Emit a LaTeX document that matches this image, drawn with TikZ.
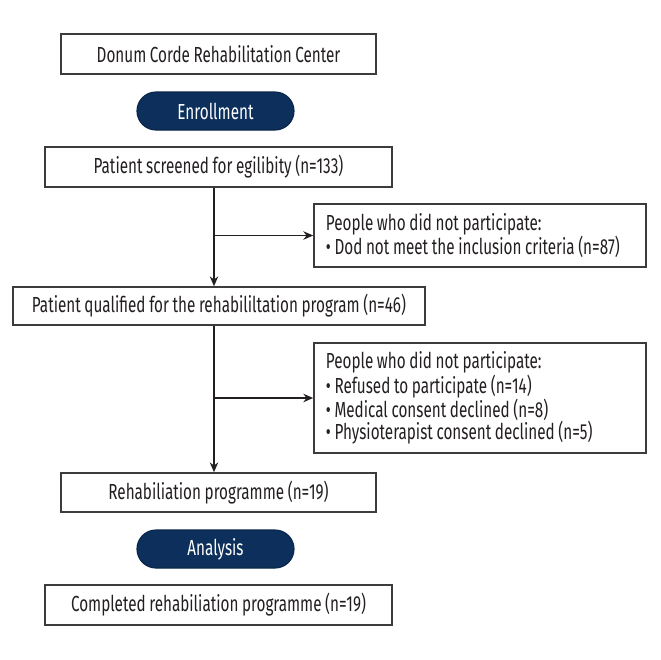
\documentclass[tikz,border=0pt]{standalone}
\usepackage{fontspec}
\setmainfont{Fira Sans}[FakeStretch=0.70,WordSpace=0.9]
\usetikzlibrary{arrows.meta,shapes.misc}
\definecolor{navy}{HTML}{0C2F5B}
\definecolor{edge}{HTML}{3C3C3C}
\definecolor{ink}{HTML}{231F20}
\begin{document}
\begin{tikzpicture}[x=0.025cm,y=-0.025cm,>={Stealth[length=7pt,width=6pt]},
  font=\fontsize{15.5}{15.6}\selectfont,
  box/.style={draw=edge,line width=1.1pt,text=ink,inner sep=0pt,minimum height=1cm},
  pill/.style={rounded rectangle,fill=navy,draw=navy!80!black,line width=.8pt,text=white,
    minimum width=3.925cm,minimum height=.95cm,inner sep=0pt},
  note/.style={draw=edge,line width=1.1pt,text=ink,align=left,text width=7.7cm,
    inner xsep=.3cm,inner ysep=0pt,
    execute at begin node={\spaceskip=0pt\xspaceskip=0pt}},
  link/.style={draw=ink,line width=1pt}]
 \useasboundingbox (0,0) rectangle (660,660);
 % top
 \node[box,minimum width=7.875cm] (centre) at (218.5,54) {Donum Corde Rehabilitation Center};
 \node[pill] (enroll) at (215.5,111) {Enrollment};
 \node[box,minimum width=8.675cm] (screen) at (218.5,167) {Patient screened for egilibity (n=133)};
 \node[note,minimum height=1.575cm] (excl1) at (480,235.5)
   {People who did not participate:\\
    • Dod not meet the inclusion criteria (n=87)};
 \node[box,minimum width=10.3cm,minimum height=.95cm] (qual) at (219,306)
   {Patient qualified for the rehabililtation program (n=46)};
 \node[note,minimum height=2.75cm] (excl2) at (480,398)
   {People who did not participate:\\
    • Refused to participate (n=14)\\
    • Medical consent declined (n=8)\\
    • Physioterapist consent declined (n=5)};
 % bottom
 \node[box,minimum width=7.875cm,minimum height=.975cm] (prog) at (218.5,492.5) {Rehabiliation programme (n=19)};
 \node[pill] (analysis) at (215.5,549) {Analysis};
 \node[box,minimum width=8.675cm] (done) at (218.5,605) {Completed rehabiliation programme (n=19)};
 % flow
 \coordinate (trunk) at (214,0);
 \draw[link,->] (screen.south -| trunk) -- (qual.north -| trunk);
 \draw[link,->] (excl1.west -| trunk) -- (excl1.west);
 \draw[link,->] (qual.south -| trunk) -- (prog.north -| trunk);
 \draw[link,->] (excl2.west -| trunk) -- (excl2.west);
\end{tikzpicture}
\end{document}
